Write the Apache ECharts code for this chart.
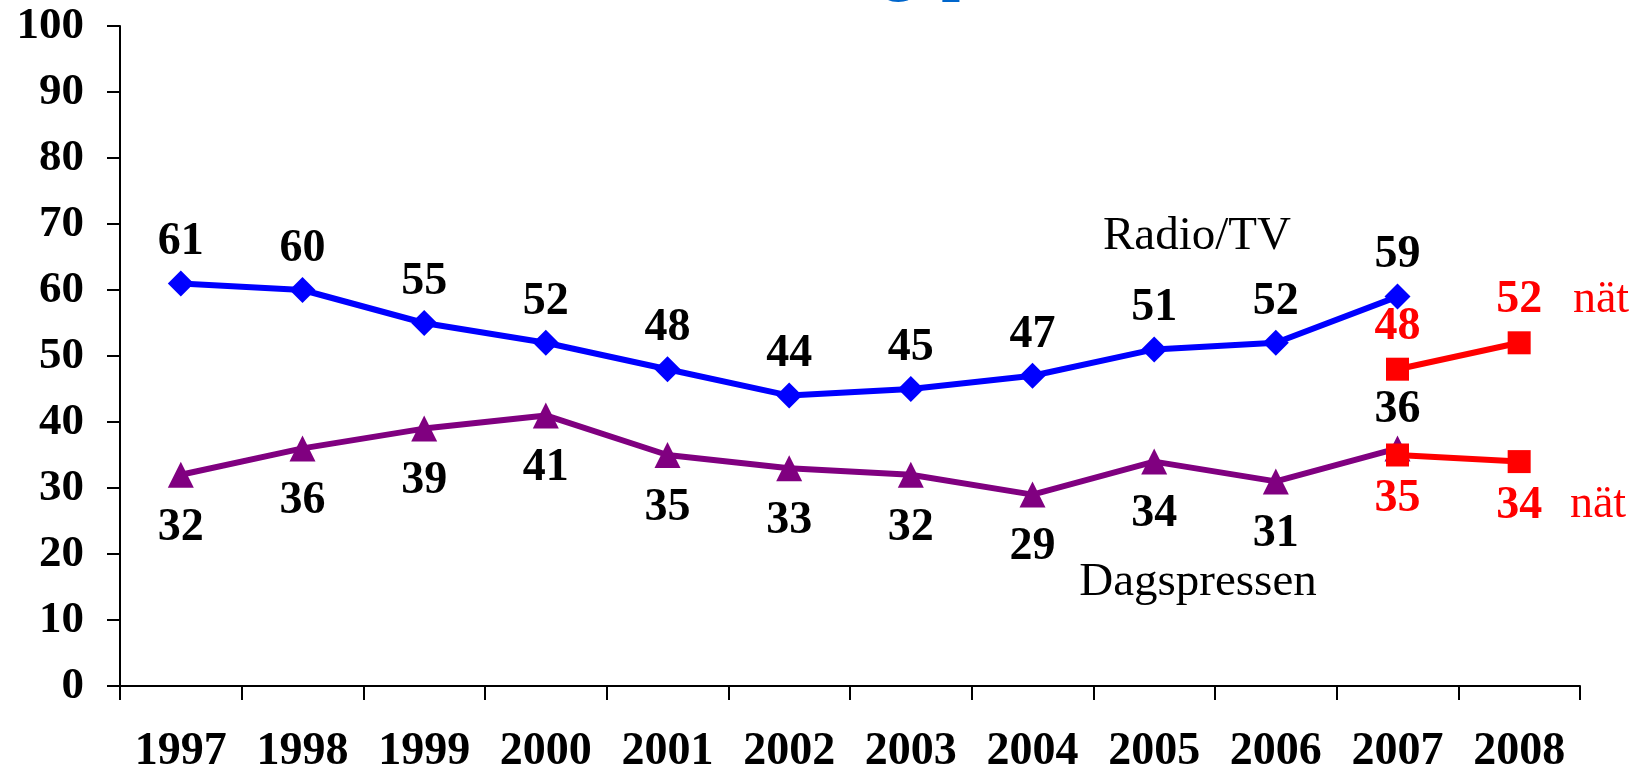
<!DOCTYPE html>
<html>
<head>
<meta charset="utf-8">
<script src="https://cdn.jsdelivr.net/npm/echarts@6/dist/echarts.min.js"></script>
<style>
html,body{margin:0;padding:0;background:#fff;}
#main{width:1643px;height:775px;}
</style>
</head>
<body>
<div id="main"></div>
<script>
var years = ['1997','1998','1999','2000','2001','2002','2003','2004','2005','2006','2007','2008'];
var radioTv = [61, 60, 55, 52, 48, 44, 45, 47, 51, 52, 59, null];
var dagspressen = [32, 36, 39, 41, 35, 33, 32, 29, 34, 31, 36, null];
var radioTvNat = [null, null, null, null, null, null, null, null, null, null, 48, 52];
var dagspressenNat = [null, null, null, null, null, null, null, null, null, null, 35, 34];

var serif = '"Liberation Serif", "Times New Roman", serif';

// purple labels sit below, except the last one which goes above
var dagData = dagspressen.map(function(v, i){
	if (i === 10) {
		return {value: v, label: {position: 'top', distance: 2}};
	}
	return v;
});

var chart = echarts.init(document.getElementById('main'));
var option = {
	animation: false,
	backgroundColor: '#fff',
	grid: {left: 120, right: 63, top: 26, bottom: 86, containLabel: false},
	xAxis: {
		type: 'category',
		data: years,
		boundaryGap: true,
		axisLine: {lineStyle: {color: '#000', width: 2}},
		axisTick: {show: true, length: 14, lineStyle: {color: '#000', width: 2}},
		axisLabel: {color: '#000', fontFamily: serif, fontWeight: 'bold', fontSize: 46, margin: 43, interval: 0},
		splitLine: {show: false}
	},
	yAxis: {
		type: 'value',
		min: 0,
		max: 100,
		interval: 10,
		axisLine: {show: true, lineStyle: {color: '#000', width: 2}},
		axisTick: {show: true, length: 13, lineStyle: {color: '#000', width: 2}},
		axisLabel: {color: '#000', fontFamily: serif, fontWeight: 'bold', fontSize: 45, margin: 36},
		splitLine: {show: false}
	},
	series: [
		{
			name: 'Radio/TV',
			type: 'line',
			data: radioTv,
			symbol: 'diamond',
			symbolSize: 26,
			lineStyle: {color: '#0000FF', width: 6},
			itemStyle: {color: '#0000FF'},
			label: {show: true, position: 'top', distance: 5, color: '#000', fontFamily: serif, fontWeight: 'bold', fontSize: 46}
		},
		{
			name: 'Dagspressen',
			type: 'line',
			data: dagData,
			symbol: 'triangle',
			symbolSize: 26,
			lineStyle: {color: '#800080', width: 6},
			itemStyle: {color: '#800080'},
			label: {show: true, position: 'bottom', distance: 17, color: '#000', fontFamily: serif, fontWeight: 'bold', fontSize: 46}
		},
		{
			name: 'Radio/TV nät',
			type: 'line',
			data: radioTvNat,
			symbol: 'rect',
			symbolSize: 23,
			lineStyle: {color: '#FF0000', width: 6},
			itemStyle: {color: '#FF0000'},
			label: {show: true, position: 'top', distance: 8, color: '#FF0000', fontFamily: serif, fontWeight: 'bold', fontSize: 46}
		},
		{
			name: 'Dagspressen nät',
			type: 'line',
			data: dagspressenNat,
			symbol: 'rect',
			symbolSize: 23,
			lineStyle: {color: '#FF0000', width: 6},
			itemStyle: {color: '#FF0000'},
			label: {show: true, position: 'bottom', distance: 10, color: '#FF0000', fontFamily: serif, fontWeight: 'bold', fontSize: 46}
		}
	],
	graphic: [
		// titeln är avskuren i originalet, bara nederdelen syns
		{type: 'text', left: 813, top: -62, silent: true,
			style: {text: 'dagspressen', fill: '#0066CC', font: 'bold 66px ' + serif}},
		{type: 'text', x: 1197, y: 237, silent: true,
			style: {text: 'Radio/TV', fill: '#000', font: '47px ' + serif, align: 'center', verticalAlign: 'middle'}},
		{type: 'text', x: 1198, y: 583, silent: true,
			style: {text: 'Dagspressen', fill: '#000', font: '47px ' + serif, align: 'center', verticalAlign: 'middle'}},
		{type: 'text', x: 1601, y: 300, silent: true,
			style: {text: 'nät', fill: '#FF0000', font: '46px ' + serif, align: 'center', verticalAlign: 'middle'}},
		{type: 'text', x: 1598, y: 505, silent: true,
			style: {text: 'nät', fill: '#FF0000', font: '46px ' + serif, align: 'center', verticalAlign: 'middle'}}
	]
};
chart.setOption(option);
</script>
</body>
</html>
